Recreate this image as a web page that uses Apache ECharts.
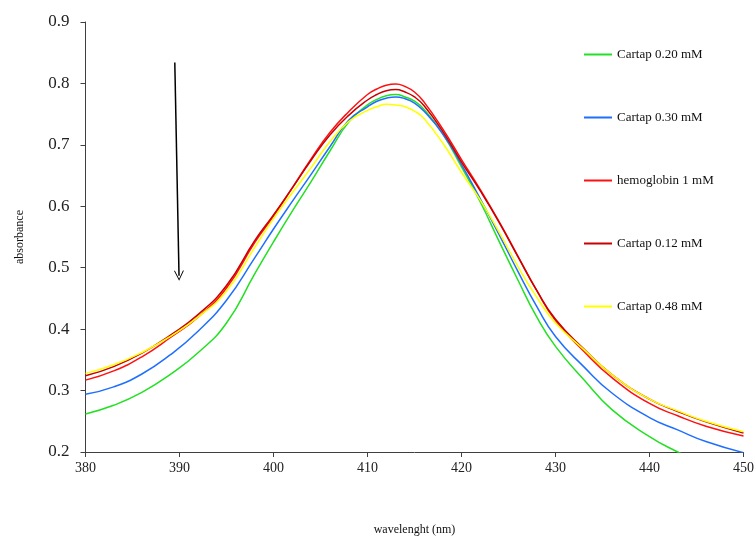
<!DOCTYPE html>
<html>
<head>
<meta charset="utf-8">
<script src="https://cdn.jsdelivr.net/npm/echarts@6/dist/echarts.min.js"></script>
<style>
	html, body { margin: 0; padding: 0; background: #fff; }
	#chart { width: 756px; height: 538px; }
</style>
</head>
<body>
<div id="chart"></div>
<script>
	// 波长 (nm)
	const wavelengths = [380, 383, 386, 389, 392, 395, 398, 400, 402, 404, 406, 408, 410, 411, 412, 413, 414, 415, 416, 418, 420, 422, 424, 426, 428, 430, 433, 436, 440, 443, 446, 450]

	const cartap020 = [0.262, 0.276, 0.297, 0.326, 0.362, 0.410, 0.490, 0.542, 0.592, 0.640, 0.690, 0.737, 0.765, 0.774, 0.780, 0.782, 0.778, 0.771, 0.758, 0.718, 0.664, 0.607, 0.543, 0.480, 0.420, 0.372, 0.318, 0.269, 0.225, 0.200, 0.178, 0.150]
	const cartap030 = [0.294, 0.306, 0.327, 0.358, 0.397, 0.447, 0.516, 0.563, 0.608, 0.652, 0.697, 0.740, 0.762, 0.771, 0.776, 0.778, 0.775, 0.768, 0.755, 0.718, 0.668, 0.612, 0.554, 0.494, 0.437, 0.388, 0.339, 0.296, 0.256, 0.236, 0.217, 0.199]
	const hemoglobin = [0.317, 0.332, 0.355, 0.386, 0.420, 0.467, 0.541, 0.584, 0.630, 0.677, 0.720, 0.754, 0.782, 0.791, 0.797, 0.799, 0.795, 0.786, 0.770, 0.726, 0.676, 0.627, 0.575, 0.519, 0.463, 0.414, 0.364, 0.321, 0.279, 0.259, 0.242, 0.226]
	const cartap012 = [0.324, 0.339, 0.361, 0.390, 0.424, 0.471, 0.544, 0.586, 0.630, 0.675, 0.716, 0.748, 0.773, 0.782, 0.788, 0.790, 0.786, 0.778, 0.764, 0.722, 0.672, 0.625, 0.574, 0.518, 0.463, 0.416, 0.368, 0.326, 0.286, 0.266, 0.249, 0.231]
	const cartap048 = [0.328, 0.342, 0.362, 0.388, 0.420, 0.462, 0.533, 0.580, 0.622, 0.663, 0.705, 0.738, 0.756, 0.762, 0.766, 0.765, 0.762, 0.755, 0.743, 0.703, 0.655, 0.610, 0.558, 0.502, 0.452, 0.410, 0.367, 0.326, 0.286, 0.267, 0.250, 0.233]

	const seriesNames = ['Cartap 0.20 mM', 'Cartap 0.30 mM', 'hemoglobin 1 mM', 'Cartap 0.12 mM', 'Cartap 0.48 mM']
	const seriesColors = ['#22e022', '#1f6fff', '#ff1010', '#c80000', '#ffff00']
	const seriesData = [cartap020, cartap030, hemoglobin, cartap012, cartap048]

	// 箭头 (数据坐标)
	const arrowStart = [389.5, 0.834]
	const arrowEnd = [389.95, 0.487]

	const serif = '"Liberation Serif", "Times New Roman", serif'

	const chart = echarts.init(document.getElementById('chart'), null, {
		renderer: 'canvas'
	})

	const series = seriesData.map((values, i) => {
		return {
			name: seriesNames[i],
			type: 'line',
			smooth: true,
			symbol: 'none',
			clip: true,
			lineStyle: {
				color: seriesColors[i],
				width: 1.5
			},
			itemStyle: {
				color: seriesColors[i]
			},
			data: wavelengths.map((w, j) => [w, values[j]]),
			z: 2
		}
	})

	series[0].markLine = {
		silent: true,
		symbol: ['none', 'path://M0,10 L5,0 L10,10 L9,10 L5,2 L1,10 Z'],
		symbolSize: [10, 10],
		label: { show: false },
		lineStyle: {
			color: '#000',
			width: 1.5,
			type: 'solid'
		},
		data: [[{ coord: arrowStart }, { coord: arrowEnd }]]
	}

	chart.setOption({
		animation: false,
		color: seriesColors,
		grid: {
			left: 85.5,
			right: 12.5,
			top: 22,
			bottom: 86,
			containLabel: false,
			outerBoundsMode: 'none'
		},
		legend: {
			orient: 'vertical',
			left: 579,
			top: 43,
			icon: 'rect',
			itemWidth: 28,
			itemHeight: 2,
			itemGap: 50,
			textStyle: {
				fontFamily: serif,
				fontSize: 13,
				color: '#111'
			},
			data: seriesNames
		},
		xAxis: {
			type: 'value',
			min: 380,
			max: 450,
			interval: 10,
			name: 'wavelenght (nm)',
			nameLocation: 'middle',
			nameGap: 72,
			nameTextStyle: {
				fontFamily: serif,
				fontSize: 12,
				color: '#111'
			},
			axisLine: { lineStyle: { color: '#404040', width: 1 } },
			axisTick: { show: true, length: 5, lineStyle: { color: '#404040' } },
			splitLine: { show: false },
			axisLabel: {
				fontFamily: serif,
				fontSize: 14,
				color: '#222',
				margin: 9
			}
		},
		yAxis: {
			type: 'value',
			min: 0.2,
			max: 0.9,
			interval: 0.1,
			name: 'absorbance',
			nameLocation: 'middle',
			nameGap: 60,
			nameRotate: 90,
			nameTextStyle: {
				fontFamily: serif,
				fontSize: 12,
				color: '#111'
			},
			axisLine: { show: true, lineStyle: { color: '#404040', width: 1 } },
			axisTick: { show: true, length: 5, lineStyle: { color: '#404040' } },
			splitLine: { show: false },
			axisLabel: {
				fontFamily: serif,
				fontSize: 17,
				color: '#222',
				margin: 16,
				formatter: (v) => v.toFixed(1)
			}
		},
		series: series
	})
</script>
</body>
</html>
